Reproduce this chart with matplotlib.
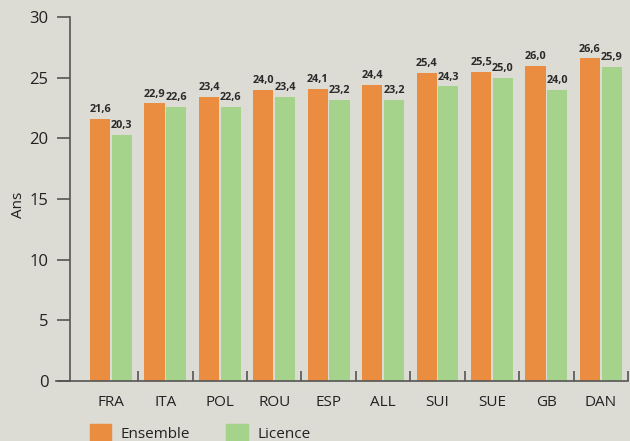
import matplotlib.pyplot as plt
import numpy as np
from matplotlib.patches import Patch

pays = ['FRA', 'ITA', 'POL', 'ROU', 'ESP', 'ALL', 'SUI', 'SUE', 'GB', 'DAN']
ensemble = [21.6, 22.9, 23.4, 24.0, 24.1, 24.4, 25.4, 25.5, 26.0, 26.6]
licence = [20.3, 22.6, 22.6, 23.4, 23.2, 23.2, 24.3, 25.0, 24.0, 25.9]
y_ticks = [0, 5, 10, 15, 20, 25, 30]

bg = '#dcdbd4'
orange = '#eb8d41'
vert = '#a6d38b'
axe = '#555555'

plt.rcParams['font.family'] = ['Open Sans', 'DejaVu Sans']

fig = plt.figure(figsize=(6.3, 4.41), dpi=100, facecolor=bg)
ax = fig.add_axes([56 / 630, 60 / 441, 572 / 630, 364 / 441], facecolor=bg)

x = np.arange(len(pays))
w = 0.37
b1 = ax.bar(x - 0.2, ensemble, width=w, color=orange)
b2 = ax.bar(x + 0.2, licence, width=w, color=vert)

# étiquettes de valeurs (virgule décimale)
for rect, v in zip(b1, ensemble):
    ax.text(rect.get_x() + rect.get_width() / 2, v + 0.3, f'{v:.1f}'.replace('.', ','),
            ha='center', va='bottom', fontsize=7.8, fontweight='bold', color='#2a2a2a')
for rect, v in zip(b2, licence):
    ax.text(rect.get_x() + rect.get_width() / 2, v + 0.3, f'{v:.1f}'.replace('.', ','),
            ha='center', va='bottom', fontsize=7.8, fontweight='bold', color='#2a2a2a')

ax.set_xlim(-1.01, 9.5)
ax.set_ylim(0, 30)

for s in ['top', 'right']:
    ax.spines[s].set_visible(False)
ax.spines['left'].set_position(('axes', 14 / 572))
ax.spines['left'].set_color(axe)
ax.spines['bottom'].set_color(axe)
ax.spines['left'].set_linewidth(1.2)
ax.spines['bottom'].set_linewidth(1.2)

ax.set_yticks(y_ticks)
ax.tick_params(axis='y', length=9.5, width=1.2, color=axe, labelsize=12, pad=6, labelcolor='#222222')
ax.set_xticks(x)
ax.set_xticklabels(pays)
ax.tick_params(axis='x', length=0, labelsize=11, pad=10, labelcolor='#222222')
ax.set_xticks(x + 0.5, minor=True)
ax.tick_params(axis='x', which='minor', direction='in', length=7, width=1.2, color=axe)

fig.text(18 / 630, 1 - 205 / 441, 'Ans', rotation=90, ha='center', va='center',
         fontsize=11, color='#222222')

handles = [Patch(color=orange, label='Ensemble'), Patch(color=vert, label='Licence')]
fig.legend(handles=handles, loc='upper left', bbox_to_anchor=(76 / 630, 1 - 410 / 441),
           ncol=2, frameon=False, fontsize=11, handlelength=1.4, handleheight=1.4,
           columnspacing=2.4, handletextpad=0.6, labelcolor='#222222')

fig.savefig('out.png', dpi=100, facecolor=bg)
